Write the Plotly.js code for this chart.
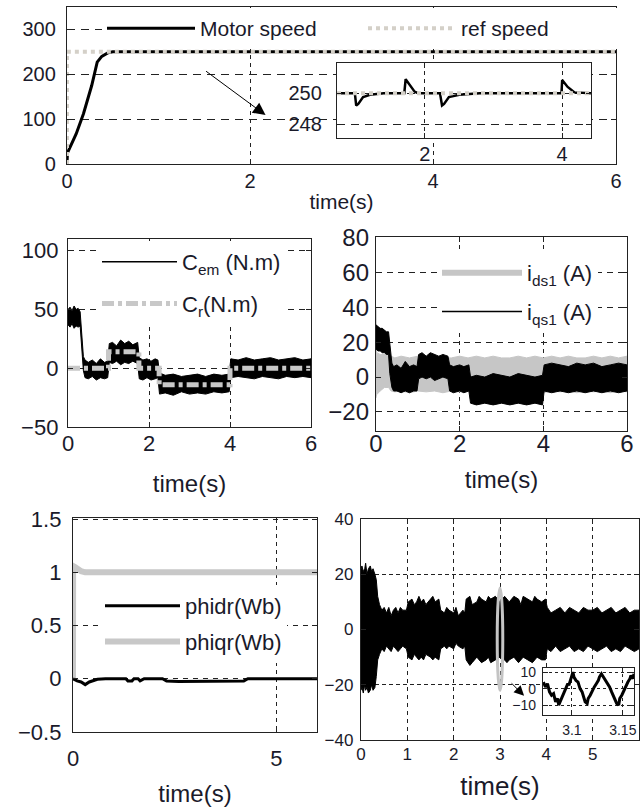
<!DOCTYPE html>
<html><head><meta charset="utf-8">
<script src="https://cdn.plot.ly/plotly-3.0.1.min.js"></script>
<style>html,body{margin:0;padding:0;background:#fff;}#chart{width:643px;height:807px;}</style>
</head><body><div id="chart"></div>
<script>
// ---------- DATA ----------
// Top: motor speed vs reference
const speedT = [0, 0.005, 0.1, 0.18, 0.27, 0.33, 0.38, 0.45, 0.5, 6];
const speedV = [0, 25, 67, 112, 175, 227, 240, 248, 250, 250];
const refT = [0, 0, 6];
const refV = [0, 250, 250];
// Top inset (zoom on speed)
const zoomT = [0.72, 0.98, 1.0, 1.03, 1.1, 1.2, 1.4, 1.7, 1.72, 1.78, 1.85, 1.9, 2.22, 2.25, 2.28, 2.35, 2.5, 2.8, 3.99, 4.0, 4.08, 4.18, 4.42];
const zoomV = [250, 250, 249.2, 249.3, 249.75, 249.9, 250, 250, 250.9, 250.5, 250.1, 250, 250, 249.2, 249.3, 249.75, 249.9, 250, 250, 250.85, 250.4, 250.05, 250];
const zoomRefT = [0.72, 4.42];
const zoomRefV = [250, 250];
// Middle-left: electromagnetic torque band and load torque
const cemT  = [0, 0.05, 0.1, 0.15, 0.2, 0.25, 0.3, 0.33, 0.38, 0.42, 0.5, 0.6, 0.7, 0.8, 0.9, 0.98, 1.02, 1.1, 1.2, 1.3, 1.4, 1.5, 1.6, 1.72, 1.76, 1.85, 1.95, 2.05, 2.15, 2.22, 2.26, 2.4, 2.6, 2.8, 3.0, 3.2, 3.4, 3.6, 3.8, 3.98, 4.02, 4.2, 4.4, 4.6, 4.8, 5.0, 5.2, 5.4, 5.6, 5.8, 6];
const cemUp = [50, 52, 49, 53, 50, 51, 48, 36, 10, 7, 5, 7, 4, 8, 5, 6, 21, 22, 19, 24, 21, 23, 20, 22, 9, 7, 8, 6, 8, 7, -4, -6, -5, -7, -6, -5, -7, -5, -6, -5, 8, 7, 9, 7, 8, 9, 7, 8, 9, 7, 8];
const cemLo = [37, 35, 38, 34, 36, 35, 36, 18, -2, -8, -9, -7, -10, -8, -9, -8, 5, 4, 6, 3, 5, 4, 6, 4, -9, -10, -8, -10, -9, -8, -22, -21, -23, -20, -22, -21, -22, -20, -21, -20, -8, -7, -8, -9, -7, -8, -9, -7, -8, -7, -8];
const crT = [0, 1.0, 1.0, 1.75, 1.75, 2.25, 2.25, 4.0, 4.0, 6];
const crV = [0, 0, 14, 14, 0, 0, -14, -14, 0, 0];
// Middle-right: stator currents
const idsT  = [0, 0.004, 0.008, 0.02, 0.1, 0.2, 0.3, 0.36, 0.45, 0.6, 0.8, 1.0, 1.2, 1.4, 1.6, 1.8, 2.0, 2.2, 2.4, 2.6, 2.8, 3.0, 3.2, 3.4, 3.6, 3.8, 4.0, 4.2, 4.4, 4.6, 4.8, 5.0, 5.2, 5.4, 5.6, 5.8, 6];
const idsUp = [40, 38, 20, 14, 13, 13, 13, 12, 11, 12, 11, 12, 11, 12, 11, 11, 12, 11, 12, 11, 12, 11, 11, 12, 11, 12, 11, 12, 11, 12, 11, 11, 12, 11, 12, 11, 12];
const idsLo = [-12, -12, -11, -10, -8, -6, -6, -8, -8.5, -8, -9, -8, -8.5, -8, -9, -8, -8.5, -8, -9, -8, -8.5, -8, -9, -8, -8.5, -8, -9, -8, -8.5, -8, -9, -8, -8.5, -8, -9, -8, -8.5];
const iqsT  = [0, 0.05, 0.1, 0.15, 0.2, 0.25, 0.3, 0.33, 0.38, 0.42, 0.5, 0.6, 0.7, 0.8, 0.9, 0.98, 1.02, 1.1, 1.2, 1.3, 1.4, 1.5, 1.6, 1.72, 1.76, 1.85, 2.0, 2.1, 2.22, 2.26, 2.4, 2.6, 2.8, 3.0, 3.2, 3.4, 3.6, 3.8, 3.98, 4.02, 4.2, 4.4, 4.6, 4.8, 5.0, 5.2, 5.4, 5.6, 5.8, 6];
const iqsUp = [30, 29, 28, 28, 27, 26, 26, 18, 8, 6, 7, 5, 9, 6, 7, 6, 13, 14, 12, 14, 13, 12, 13, 12, 7, 6, 7, 6, 7, 0, 1, 0, 2, 1, 0, 2, 1, 0, 1, 7, 8, 7, 6, 8, 7, 8, 6, 7, 8, 7];
const iqsLo = [16, 15, 15, 14, 14, 13, 13, 2, -6, -8, -8, -9, -8, -9, -8, -8, -1, 0, -1, 0, -2, -1, 0, -1, -8, -9, -8, -9, -8, -15, -16, -15, -16, -15, -16, -15, -16, -15, -16, -8, -9, -8, -9, -8, -9, -8, -9, -8, -9, -8];
// Bottom-left: rotor fluxes
const phiqrT = [0, 0.003, 0.05, 0.1, 0.2, 0.3, 0.5, 1.0, 1.5, 2.0, 3.0, 4.0, 5.0, 6.0];
const phiqrV = [0, 1.06, 1.05, 1.03, 1.01, 1.0, 1.0, 1.0, 1.0, 1.0, 1.0, 1.0, 1.0, 1.0];
const phidrT = [0, 0.1, 0.2, 0.3, 0.4, 0.5, 0.6, 0.8, 1.3, 1.35, 1.45, 1.5, 1.6, 1.65, 1.75, 2.2, 2.3, 2.6, 3.0, 3.5, 4.0, 4.2, 4.3, 6];
const phidrV = [0, -0.02, -0.03, -0.055, -0.03, -0.015, -0.005, 0, 0, -0.02, -0.02, 0, 0, -0.02, 0, 0, -0.02, -0.025, -0.025, -0.025, -0.025, -0.02, 0, 0];
// Bottom-right: current band
const brT  = [0, 0.02, 0.05, 0.08, 0.1, 0.13, 0.16, 0.2, 0.23, 0.26, 0.3, 0.33, 0.36, 0.4, 0.45, 0.5, 0.55, 0.6, 0.65, 0.7, 0.75, 0.8, 0.85, 0.9, 0.98, 1.02, 1.1, 1.15, 1.2, 1.25, 1.3, 1.35, 1.4, 1.5, 1.55, 1.6, 1.68, 1.72, 1.8, 1.85, 1.9, 2.0, 2.05, 2.1, 2.2, 2.24, 2.27, 2.35, 2.4, 2.5, 2.55, 2.6, 2.7, 2.75, 2.8, 2.9, 3.0, 3.1, 3.15, 3.2, 3.3, 3.4, 3.45, 3.5, 3.6, 3.7, 3.75, 3.8, 3.9, 3.98, 4.02, 4.1, 4.2, 4.3, 4.4, 4.5, 4.6, 4.7, 4.8, 4.9, 5.0, 5.1, 5.2, 5.3, 5.4, 5.5, 5.6, 5.7, 5.8, 5.9, 6];
const brUp = [22, 23, 21, 22, 24, 20, 22, 23, 21, 22, 20, 18, 12, 9, 7, 8, 6, 8, 5, 7, 8, 6, 8, 7, 7, 10, 11, 9, 10, 12, 10, 11, 9, 11, 12, 10, 11, 7, 6, 8, 7, 6, 8, 5, 7, 6, 11, 12, 9, 10, 12, 11, 10, 12, 11, 12, 10, 12, 11, 10, 12, 11, 9, 12, 11, 10, 12, 11, 10, 11, 8, 6, 7, 8, 6, 8, 7, 6, 8, 7, 7, 8, 6, 7, 8, 6, 7, 8, 6, 7, 7];
const brLo = [-22, -21, -23, -20, -22, -21, -23, -22, -20, -22, -21, -17, -11, -9, -7, -8, -6, -7, -8, -6, -7, -8, -7, -6, -7, -10, -11, -9, -10, -11, -10, -11, -9, -10, -11, -10, -11, -7, -6, -7, -6, -7, -5, -6, -7, -6, -11, -13, -12, -10, -11, -12, -11, -10, -12, -11, -10, -11, -12, -11, -10, -12, -11, -10, -11, -12, -11, -10, -11, -11, -7, -8, -6, -8, -7, -6, -8, -7, -8, -6, -7, -8, -7, -6, -8, -7, -8, -6, -7, -8, -7];
// Bottom-right inset (zoom 3.07-3.16 s)
const insT = [3.072, 3.074, 3.076, 3.078, 3.08, 3.082, 3.084, 3.086, 3.087, 3.089, 3.09, 3.092, 3.094, 3.096, 3.097, 3.099, 3.1, 3.101, 3.102, 3.104, 3.106, 3.108, 3.11, 3.112, 3.113, 3.115, 3.116, 3.118, 3.12, 3.122, 3.124, 3.126, 3.127, 3.129, 3.13, 3.132, 3.133, 3.135, 3.137, 3.139, 3.141, 3.143, 3.144, 3.146, 3.147, 3.149, 3.151, 3.153, 3.155, 3.157, 3.158, 3.16, 3.161];
const insV = [4, 1, 3, -2, -4, -3, -8, -6, -10, -7, -5, -2, 0, 3, 2, 6, 8, 10, 7, 5, 4, 0, -2, -6, -8, -9, -6, -4, -1, 1, 3, 5, 7, 9, 8, 6, 5, 3, 1, -2, -5, -7, -9, -10, -6, -4, -1, 2, 4, 6, 8, 6, 9];
// Tick values
const topXTicks = [0, 2, 4, 6];
const topYTicks = [0, 100, 200, 300];
const insTopXTicks = [2, 4];
const insTopYTicks = [248, 250];
const midXTicks = [0, 2, 4, 6];
const cemYTicks = [-50, 0, 50, 100];
const curYTicks = [-20, 0, 20, 40, 60, 80];
const fluxXTicks = [0, 5];
const fluxYTicks = [-0.5, 0, 0.5, 1, 1.5];
const brXTicks = [0, 1, 2, 3, 4, 5, 6];
const brYTicks = [-40, -20, 0, 20, 40];
const insBrXTicks = [3.1, 3.15];
const insBrYTicks = [-10, 0, 10];
// highlighted region (grey ellipse) on bottom-right
const highlight = {t0: 2.94, t1: 3.06, v0: -22, v1: 15};

// ---------- HELPERS ----------
const F = 'Liberation Sans, Arial, sans-serif';
const FN = 'Liberation Sans Narrow, Arial Narrow, Liberation Sans, sans-serif';
const TXT = '#1a1a2a';
function poly(t, up, lo) {
  return {x: t.concat(t.slice().reverse()), y: up.concat(lo.slice().reverse())};
}
function axis(o) {
  return Object.assign({
    showline: true, linecolor: '#222', linewidth: 1.2, mirror: 'allticks',
    ticks: 'inside', ticklen: 5, tickcolor: '#222', tickwidth: 1,
    showgrid: true, gridcolor: '#222', gridwidth: 1, griddash: '4px,4px',
    zeroline: false, tickmode: 'array', fixedrange: true,
    tickfont: {family: F, size: 20, color: TXT}
  }, o);
}
const W = 643, H = 807;
const dx = (a, b) => [a / W, b / W];
const dy = (top, bottom) => [1 - bottom / H, 1 - top / H];

// ---------- TRACES ----------
const traces = [];
// top
traces.push({x: speedT, y: speedV, xaxis: 'x', yaxis: 'y', mode: 'lines', name: 'Motor speed', legend: 'legend',
  line: {color: '#000', width: 3}});
traces.push({x: refT, y: refV, xaxis: 'x', yaxis: 'y', mode: 'lines', name: 'ref speed', legend: 'legend',
  line: {color: '#d4d0c8', width: 4, dash: 'dot'}});
traces.push({x: zoomT, y: zoomV, xaxis: 'x2', yaxis: 'y2', mode: 'lines', showlegend: false,
  line: {color: '#000', width: 2.5}});
traces.push({x: zoomRefT, y: zoomRefV, xaxis: 'x2', yaxis: 'y2', mode: 'lines', showlegend: false,
  line: {color: '#d4d0c8', width: 4, dash: 'dot'}});
// middle-left
const cemP = poly(cemT, cemUp, cemLo);
traces.push({x: cemP.x, y: cemP.y, xaxis: 'x3', yaxis: 'y3', mode: 'lines', fill: 'toself', fillcolor: '#000',
  line: {color: '#000', width: 1}, showlegend: false});
traces.push({x: crT, y: crV, xaxis: 'x3', yaxis: 'y3', mode: 'lines', showlegend: false,
  line: {color: '#c8c8c8', width: 5, dash: '12px,4px,4px,4px'}});
traces.push({x: [null], y: [null], xaxis: 'x3', yaxis: 'y3', mode: 'lines', name: 'C<sub>em</sub> (N.m)', legend: 'legend2', legendgroup: 'a', legendrank: 1,
  line: {color: '#000', width: 1.5}});
traces.push({x: [null], y: [null], xaxis: 'x3', yaxis: 'y3', mode: 'lines', name: 'C<sub>r</sub>(N.m)', legend: 'legend2', legendgroup: 'b', legendrank: 2,
  line: {color: '#c8c8c8', width: 5, dash: '12px,4px,4px,4px'}});
// middle-right
const idsP = poly(idsT, idsUp, idsLo);
const iqsP = poly(iqsT, iqsUp, iqsLo);
traces.push({x: idsP.x, y: idsP.y, xaxis: 'x4', yaxis: 'y4', mode: 'lines', fill: 'toself', fillcolor: '#c6c6c6',
  line: {color: '#c6c6c6', width: 1}, showlegend: false});
traces.push({x: iqsP.x, y: iqsP.y, xaxis: 'x4', yaxis: 'y4', mode: 'lines', fill: 'toself', fillcolor: '#000',
  line: {color: '#000', width: 1}, showlegend: false});
traces.push({x: [null], y: [null], xaxis: 'x4', yaxis: 'y4', mode: 'lines', name: 'i<sub>ds1</sub> (A)', legend: 'legend3', legendgroup: 'c', legendrank: 1,
  line: {color: '#c6c6c6', width: 6}});
traces.push({x: [null], y: [null], xaxis: 'x4', yaxis: 'y4', mode: 'lines', name: 'i<sub>qs1</sub> (A)', legend: 'legend3', legendgroup: 'd', legendrank: 2,
  line: {color: '#000', width: 1.5}});
// bottom-left
traces.push({x: phiqrT, y: phiqrV, xaxis: 'x5', yaxis: 'y5', mode: 'lines', name: 'phiqr(Wb)', legend: 'legend4', legendgroup: 'f', legendrank: 2,
  line: {color: '#c8c8c8', width: 6}});
traces.push({x: phidrT, y: phidrV, xaxis: 'x5', yaxis: 'y5', mode: 'lines', name: 'phidr(Wb)', legend: 'legend4', legendgroup: 'e', legendrank: 1,
  line: {color: '#000', width: 3}});
// bottom-right
const brP = poly(brT, brUp, brLo);
traces.push({x: brP.x, y: brP.y, xaxis: 'x6', yaxis: 'y6', mode: 'lines', fill: 'toself', fillcolor: '#000',
  line: {color: '#000', width: 1}, showlegend: false});
traces.push({x: insT, y: insV, xaxis: 'x7', yaxis: 'y7', mode: 'lines', showlegend: false,
  line: {color: '#000', width: 3}});

// ---------- LAYOUT ----------
const layout = {
  width: W, height: H, margin: {l: 0, r: 0, t: 0, b: 0},
  paper_bgcolor: '#fff', plot_bgcolor: '#fff', showlegend: true,
  font: {family: F, color: TXT},
  xaxis: axis({domain: dx(67, 616), range: [0, 6], tickvals: topXTicks, anchor: 'y', ticklabelstandoff: -1,
    title: {text: 'time(s)', font: {family: F, size: 21, color: TXT}, standoff: 3}}),
  yaxis: axis({domain: dy(7, 164), range: [0, 350], tickvals: topYTicks, anchor: 'x', griddash: '8px,6px', ticklabelstandoff: 6}),
  xaxis2: axis({domain: dx(337, 591), range: [0.72, 4.42], tickvals: insTopXTicks, anchor: 'y2', ticklabelstandoff: -2}),
  yaxis2: axis({domain: dy(63, 138), range: [247.1, 251.95], tickvals: insTopYTicks, anchor: 'x2', griddash: '8px,6px', ticklabelstandoff: 10}),
  xaxis3: axis({domain: dx(68, 311), range: [0, 6], tickvals: midXTicks, anchor: 'y3', ticklabelstandoff: -4,
    tickfont: {family: F, size: 22, color: TXT},
    title: {text: 'time(s)', font: {family: F, size: 24, color: TXT}, standoff: 20}}),
  yaxis3: axis({domain: dy(239, 427), range: [-50, 110], tickvals: cemYTicks, anchor: 'x3', ticklabelstandoff: 4,
    griddash: '6px,5px', tickfont: {family: F, size: 22, color: TXT}}),
  xaxis4: axis({domain: dx(376, 627), range: [0, 6], tickvals: midXTicks, anchor: 'y4', ticklabelstandoff: -9,
    tickfont: {family: F, size: 24, color: TXT},
    title: {text: 'time(s)', font: {family: F, size: 24, color: TXT}, standoff: 15}}),
  yaxis4: axis({domain: dy(237, 431), range: [-31, 80.5], tickvals: curYTicks, anchor: 'x4', ticklabelstandoff: 1,
    griddash: '6px,5px', tickfont: {family: F, size: 24, color: TXT}}),
  xaxis5: axis({domain: dx(73, 317), range: [0, 6], tickvals: fluxXTicks, anchor: 'y5', ticklabelstandoff: 6,
    tickfont: {family: F, size: 22, color: TXT},
    title: {text: 'time(s)', font: {family: F, size: 24, color: TXT}, standoff: 15}}),
  yaxis5: axis({domain: dy(518, 732), range: [-0.5, 1.51], tickvals: fluxYTicks, anchor: 'x5', ticklabelstandoff: 6,
    griddash: '5px,5px', tickfont: {family: F, size: 22, color: TXT}}),
  xaxis6: axis({domain: dx(361, 639), range: [0, 6], tickvals: brXTicks, anchor: 'y6', ticklabelstandoff: -2,
    tickfont: {family: FN, size: 17, color: TXT},
    title: {text: 'time(s)', font: {family: FN, size: 26, color: TXT}, standoff: 14}}),
  yaxis6: axis({domain: dy(519, 740), range: [-40, 40], tickvals: brYTicks, anchor: 'x6', ticklabelstandoff: 3,
    griddash: '4px,3px', tickfont: {family: FN, size: 17, color: TXT}}),
  xaxis7: axis({domain: dx(543, 634), range: [3.0716, 3.161], tickvals: insBrXTicks, anchor: 'y7', ticklabelstandoff: 2,
    griddash: '3px,3px', tickfont: {family: FN, size: 14, color: TXT}}),
  yaxis7: axis({domain: dy(668, 715), range: [-16, 12.5], tickvals: insBrYTicks, anchor: 'x7', ticklabelstandoff: 3,
    griddash: '3px,3px', tickfont: {family: FN, size: 14, color: TXT}}),
  legend: {orientation: 'h', x: 102 / W, y: 1 - 8 / H, xanchor: 'left', yanchor: 'top', bgcolor: '#fff',
    itemwidth: 88, entrywidth: 158, entrywidthmode: 'pixels', font: {family: F, size: 21, color: TXT}},
  legend2: {x: 97 / W, y: 1 - 241 / H, xanchor: 'left', yanchor: 'top', bgcolor: '#fff', itemwidth: 75,
    traceorder: 'grouped', tracegroupgap: 10, font: {family: F, size: 22, color: TXT}},
  legend3: {x: 437 / W, y: 1 - 252 / H, xanchor: 'left', yanchor: 'top', bgcolor: '#fff', itemwidth: 80,
    traceorder: 'grouped', tracegroupgap: 7, font: {family: F, size: 22, color: TXT}},
  legend4: {x: 100 / W, y: 1 - 585 / H, xanchor: 'left', yanchor: 'top', bgcolor: '#fff', itemwidth: 75,
    traceorder: 'grouped', tracegroupgap: 4, font: {family: F, size: 22, color: TXT}},
  shapes: [
    {type: 'circle', xref: 'x6', yref: 'y6', x0: highlight.t0, x1: highlight.t1, y0: highlight.v0, y1: highlight.v1,
      line: {color: '#c4c4c4', width: 3}, layer: 'above'}
  ],
  annotations: [
    {xref: 'x', yref: 'y', x: 2.17, y: 109, ax: -61, ay: -45, showarrow: true, arrowhead: 2, arrowsize: 2.5,
      arrowwidth: 1, arrowcolor: '#000', text: ''},
    {xref: 'x6', yref: 'y6', x: 3.52, y: -24, ax: -14, ay: -14, showarrow: true, arrowhead: 2, arrowsize: 2,
      arrowwidth: 1, arrowcolor: '#000', text: ''}
  ]
};
Plotly.newPlot('chart', traces, layout, {staticPlot: true, displayModeBar: false});
</script></body></html>
